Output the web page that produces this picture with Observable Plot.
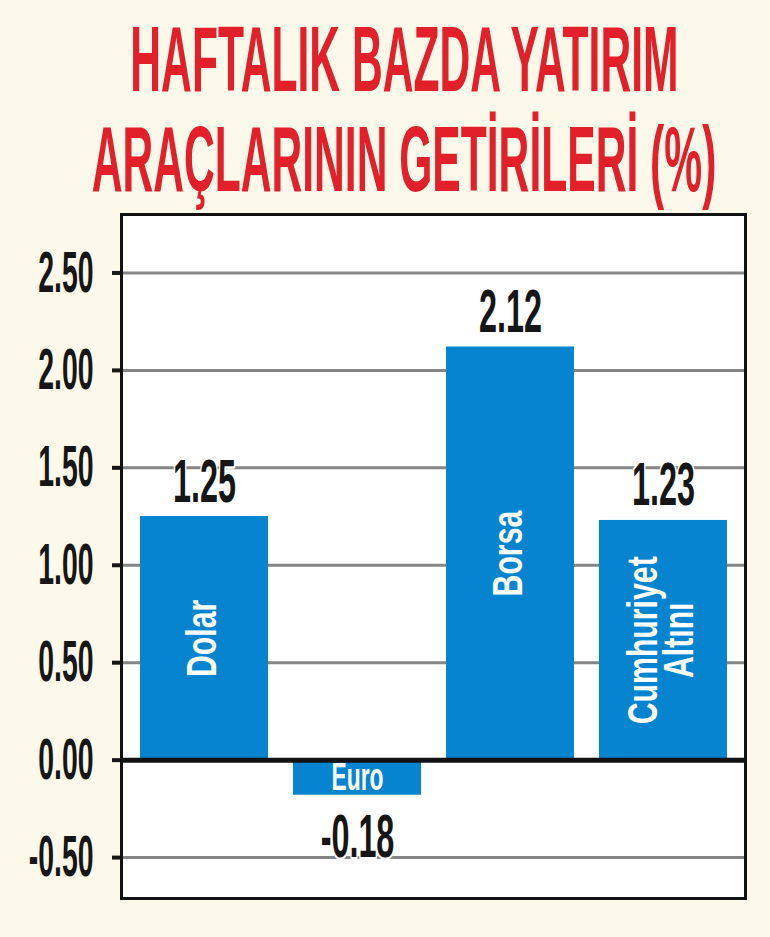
<!DOCTYPE html>
<html><head><meta charset="utf-8">
<script src="https://cdn.jsdelivr.net/npm/d3@7"></script>
<script src="https://cdn.jsdelivr.net/npm/@observablehq/plot@0.6"></script>
<style>
html,body{margin:0;padding:0;background:#fdf9ea;width:770px;height:937px;overflow:hidden}
#title{height:204px;box-sizing:border-box;padding-top:9px;padding-left:38px;color:#e2202a;font-family:"Liberation Sans",Arial,sans-serif;font-weight:bold;font-size:93px;line-height:100px;white-space:nowrap}
#title div{display:flex;justify-content:center;height:100px}
#title span{display:block;transform:scaleX(0.458);transform-origin:center}
#chart svg{display:block}
</style></head><body>
<div id="title"><div><span>HAFTALIK BAZDA YATIRIM</span></div><div><span>ARAÇLARININ GETİRİLERİ (%)</span></div></div>
<div id="chart"></div>
<script>
const categories = ["Dolar", "Euro", "Borsa", "Cumhuriyet\nAltını"];
const values = [1.25, -0.18, 2.12, 1.23];
const valueLabels = ["1.25", "-0.18", "2.12", "1.23"];
const yTicks = [-0.5, 0, 0.5, 1, 1.5, 2, 2.5];
const yTickLabels = ["-0.50", "0.00", "0.50", "1.00", "1.50", "2.00", "2.50"];

const data = categories.map((c, i) => ({cat: c, value: values[i], label: valueLabels[i]}));
const tickLabel = new Map(yTicks.map((t, i) => [t, yTickLabels[i]]));
const pos = data.filter(d => d.value >= 0);
const neg = data.filter(d => d.value < 0);
const font = '"Liberation Sans", Arial, sans-serif';

const svg = Plot.plot({
  width: 770, height: 733,
  marginTop: 10, marginBottom: 39, marginLeft: 121, marginRight: 25,
  style: {background: "transparent", fontFamily: font, overflow: "visible"},
  x: {domain: categories, paddingInner: 0.165, paddingOuter: 0.117, axis: null},
  y: {domain: [-0.71, 2.80]},
  marks: [
    Plot.frame({fill: "white", stroke: "none"}),
    Plot.gridY(yTicks, {stroke: "#858585", strokeOpacity: 1, strokeWidth: 3}),
    Plot.axisY(yTicks, {tickFormat: d => tickLabel.get(d), tickSize: 9, tickPadding: 19, strokeWidth: 4,
      fontSize: 58, fontWeight: "bold", color: "#161616", label: null}),
    Plot.barY(data, {x: "cat", y: "value", fill: "#0784d0"}),
    Plot.ruleY([0], {stroke: "#111", strokeWidth: 5}),
    // text marks in order: 0 = positive value labels, 1 = negative value labels, 2 = rotated bar labels, 3 = euro label
    Plot.text(pos, {x: "cat", y: "value", text: "label", lineAnchor: "bottom", dy: -15,
      fontSize: 61, fontWeight: "bold", fill: "#161616", stroke: "white", strokeWidth: 5}),
    Plot.text(neg, {x: "cat", y: "value", text: "label", lineAnchor: "top", dy: 18,
      fontSize: 61, fontWeight: "bold", fill: "#161616", stroke: "white", strokeWidth: 5}),
    Plot.text(pos, {x: "cat", y: d => d.value / 2, text: "cat", rotate: -90, lineHeight: 0.85,
      fontSize: 42, fontWeight: "bold", fill: "white"}),
    Plot.text(neg, {x: "cat", y: d => d.value / 2, text: "cat",
      fontSize: 38, fontWeight: "bold", fill: "white"}),
    Plot.frame({stroke: "#111", strokeWidth: 3})
  ]
});
document.getElementById("chart").append(svg);

function squeezeTexts(texts, k) {
  texts.forEach(t => {
    const parts = t.querySelectorAll("tspan");
    (parts.length ? Array.from(parts) : [t]).forEach(el => {
      const L = el.getComputedTextLength();
      el.setAttribute("textLength", L * k);
      el.setAttribute("lengthAdjust", "spacingAndGlyphs");
    });
  });
}
squeezeTexts(svg.querySelectorAll('g[aria-label="y-axis tick label"] text'), 0.49);
const textGroups = svg.querySelectorAll('g[aria-label="text"]');
const factors = [0.53, 0.53, 0.72, 0.6];
textGroups.forEach((g, i) => squeezeTexts(g.querySelectorAll(":scope > text"), factors[i] ?? 1));
</script>
</body></html>
